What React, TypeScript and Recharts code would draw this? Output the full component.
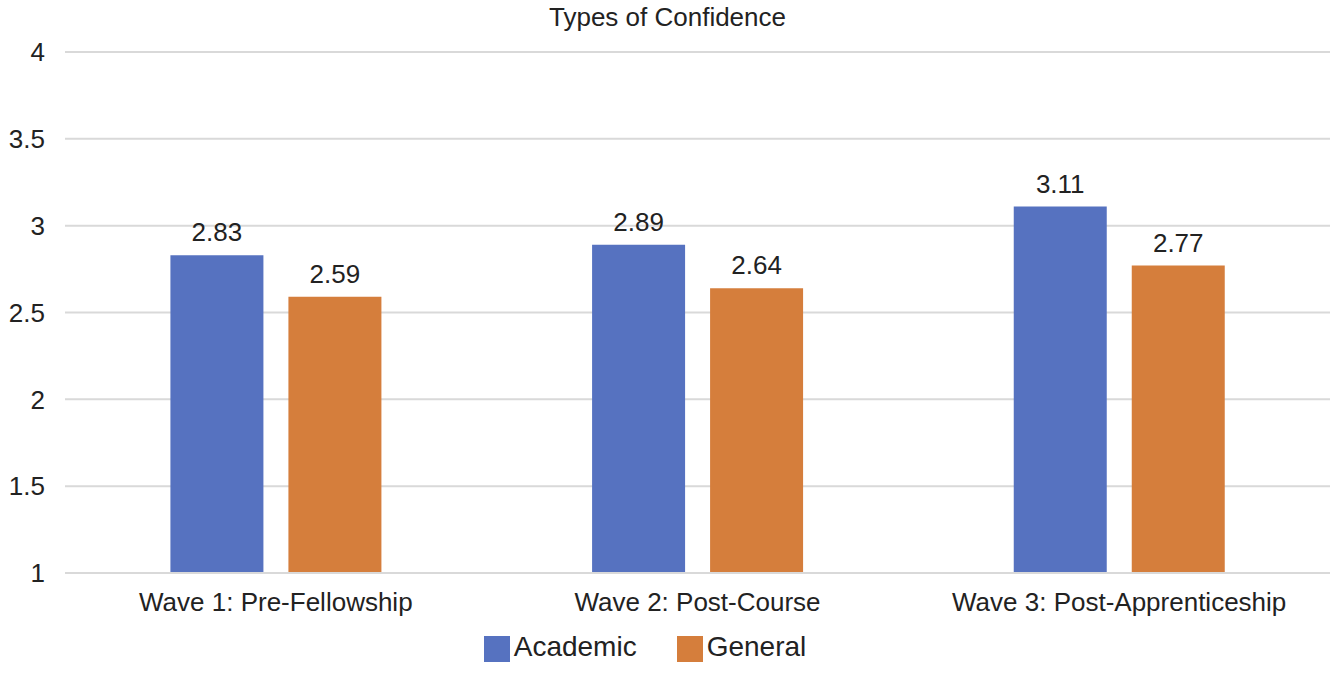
import React from "react";
import { BarChart, Bar, XAxis, YAxis, CartesianGrid, Legend, LabelList } from "recharts";

const categories = ["Wave 1: Pre-Fellowship", "Wave 2: Post-Course", "Wave 3: Post-Apprenticeship"];
const academic = [2.83, 2.89, 3.11];
const general = [2.59, 2.64, 2.77];
const yTicks = [1, 1.5, 2, 2.5, 3, 3.5, 4];

const data = categories.map((c, i) => ({ name: c, Academic: academic[i], General: general[i] }));
const font = "Liberation Sans, Arial, Helvetica, sans-serif";

export default function App() {
  return (
    <div style={{ position: "absolute", left: 0, top: 0, width: 1335, height: 689, fontFamily: font, background: "#fff" }}>
      <div style={{ position: "absolute", top: 2, width: "100%", textAlign: "center", fontSize: 26, color: "#222" }}>
        Types of Confidence
      </div>
      <BarChart width={1335} height={689} data={data} margin={{ top: 52, right: 5, left: 0, bottom: 8 }}
        barCategoryGap="25%" barGap={25}>
        <CartesianGrid vertical={false} stroke="#d9d9d9" strokeWidth={2} />
        <XAxis dataKey="name" axisLine={{ stroke: "#d9d9d9", strokeWidth: 2 }} tickLine={false} height={58}
          tick={{ fontSize: 26, fill: "#222", fontFamily: font }} dy={12} interval={0} />
        <YAxis domain={[1, 4]} ticks={yTicks} width={65} axisLine={false} tickLine={false}
          tick={{ fontSize: 26, fill: "#222", fontFamily: font }} dx={-12} />
        <Legend verticalAlign="bottom" height={50} iconType="square" iconSize={26}
          wrapperStyle={{ fontSize: 28, fontFamily: font, color: "#222" }}
          formatter={(v) => <span style={{ color: "#222", marginRight: 30 }}>{v}</span>} />
        <Bar dataKey="Academic" fill="#5672c0" isAnimationActive={false}>
          <LabelList dataKey="Academic" position="top" offset={14} style={{ fontSize: 26, fill: "#222", fontFamily: font }} />
        </Bar>
        <Bar dataKey="General" fill="#d57e3c" isAnimationActive={false}>
          <LabelList dataKey="General" position="top" offset={14} style={{ fontSize: 26, fill: "#222", fontFamily: font }} />
        </Bar>
      </BarChart>
    </div>
  );
}
